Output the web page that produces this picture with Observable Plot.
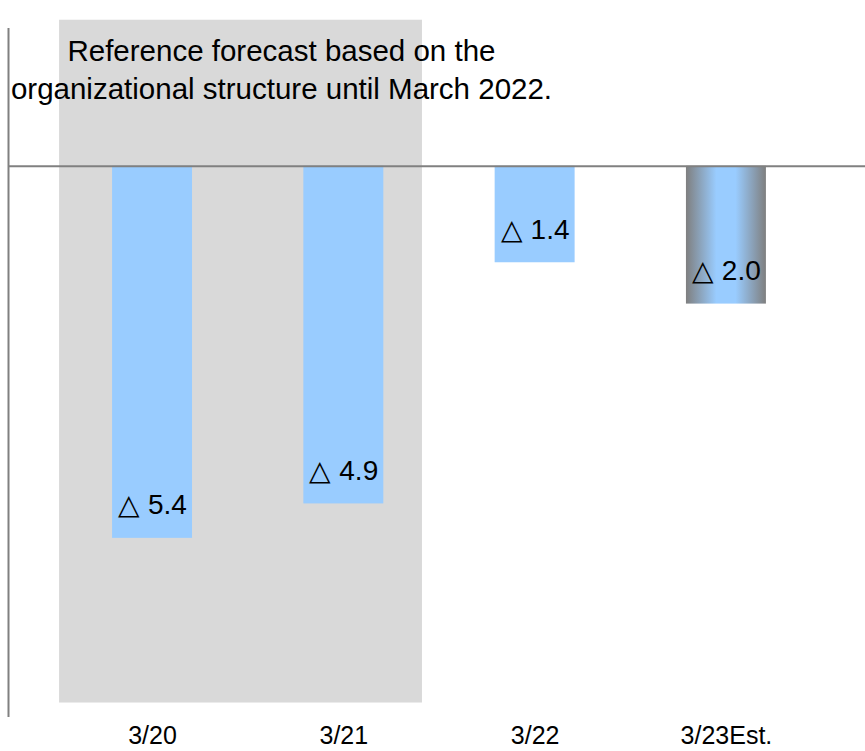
<!DOCTYPE html>
<html>
<head>
<meta charset="utf-8">
<script src="https://cdn.jsdelivr.net/npm/d3@7"></script>
<script src="https://cdn.jsdelivr.net/npm/@observablehq/plot@0.6"></script>
<style>
  html, body { margin: 0; padding: 0; background: #ffffff; }
  #chart svg { display: block; }
</style>
</head>
<body>
<div id="chart"></div>
<script>
// ---- data ----
const periods = ["3/20", "3/21", "3/22", "3/23Est."];
const values = [-5.4, -4.9, -1.4, -2.0];
const estimated = [false, false, false, true];
const valueLabels = ["△ 5.4", "△ 4.9", "△ 1.4", "△ 2.0"];
const noteLines = ["Reference forecast based on the", "organizational structure until March 2022."];
const noteY = [1.665, 1.12];           // y value of each note line
const noteX = 0.674;                    // x (period index) of note centre
const shadeRange = {x1: -0.486, x2: 1.411, y1: -7.79, y2: 2.12}; // shaded "old structure" area

const rows = periods.map((p, i) => ({i, period: p, value: values[i], label: valueLabels[i], est: estimated[i]}));
const notes = noteLines.map((t, k) => ({text: t, y: noteY[k]}));

const half = 0.209;   // half bar width in period units
const xDomain = [-0.753, 3.727];
const PLACEHOLDER = "#123456";

const plot = Plot.plot({
  width: 865,
  height: 751,
  marginTop: 28,
  marginBottom: 34,
  marginLeft: 8,
  marginRight: 0,
  style: {fontFamily: "'Liberation Sans', Arial, sans-serif", fontSize: "25px", background: "#ffffff", color: "#000000"},
  x: {type: "linear", domain: xDomain, ticks: [0, 1, 2, 3], tickFormat: i => periods[i], tickSize: 0, tickPadding: 9, label: null},
  y: {domain: [-8, 2], axis: null},
  marks: [
    Plot.rect([shadeRange], {x1: "x1", x2: "x2", y1: "y1", y2: "y2", fill: "#d9d9d9"}),
    Plot.rectY(rows.filter(d => !d.est), {x1: d => d.i - half, x2: d => d.i + half, y1: 0, y2: "value", fill: "#99ccff"}),
    Plot.rectY(rows.filter(d => d.est), {x1: d => d.i - half, x2: d => d.i + half, y1: 0, y2: "value", fill: PLACEHOLDER}),
    Plot.ruleY([0], {stroke: "#808080", strokeWidth: 2}),
    Plot.ruleX([xDomain[0]], {stroke: "#808080", strokeWidth: 2}),
    Plot.text(rows, {x: "i", y: "value", text: "label", dy: -33, fontSize: 28, fill: "#000000"}),
    Plot.text(notes, {x: () => noteX, y: "y", text: "text", fontSize: 29.5, fill: "#000000"})
  ]
});

document.getElementById("chart").appendChild(plot);

// gradient for the estimated bar
const svg = plot.tagName.toLowerCase() === "svg" ? plot : plot.querySelector("svg");
const ns = "http://www.w3.org/2000/svg";
const defs = document.createElementNS(ns, "defs");
const grad = document.createElementNS(ns, "linearGradient");
grad.setAttribute("id", "est-grad");
grad.setAttribute("x1", "0"); grad.setAttribute("x2", "1");
grad.setAttribute("y1", "0"); grad.setAttribute("y2", "0");
[[0, "#7f7f7f"], [0.38, "#99ccff"], [0.62, "#99ccff"], [1, "#7f7f7f"]].forEach(([o, c]) => {
  const s = document.createElementNS(ns, "stop");
  s.setAttribute("offset", o);
  s.setAttribute("stop-color", c);
  grad.appendChild(s);
});
defs.appendChild(grad);
svg.insertBefore(defs, svg.firstChild);
svg.querySelectorAll('[fill="' + PLACEHOLDER + '"]').forEach(el => el.setAttribute("fill", "url(#est-grad)"));
</script>
</body>
</html>
